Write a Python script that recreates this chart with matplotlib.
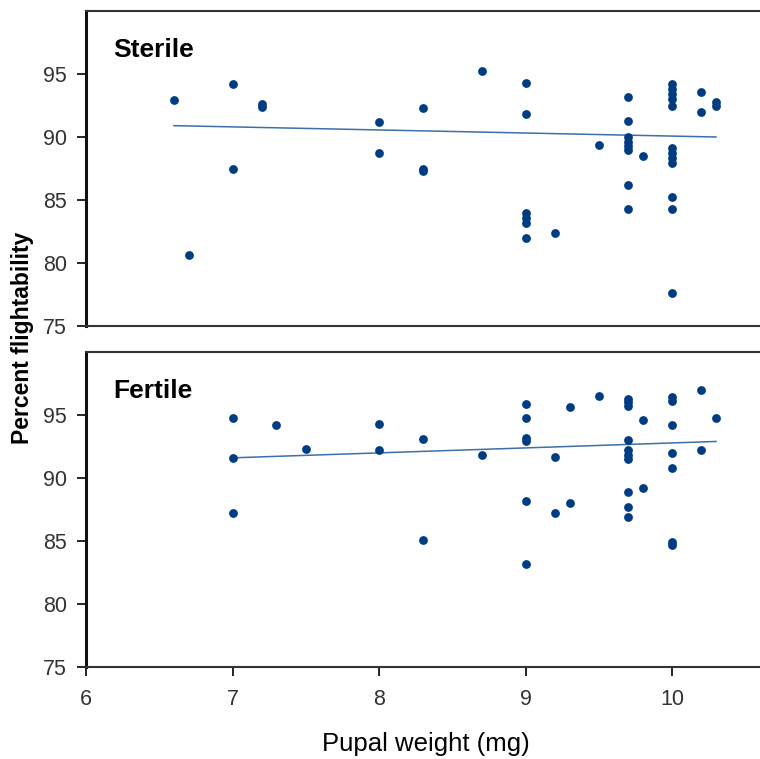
import numpy as np
import matplotlib
matplotlib.use("Agg")
import matplotlib.pyplot as plt

plt.rcParams['font.family'] = ['Liberation Sans', 'DejaVu Sans']

# Sterile data (pupal weight mg, percent flightability)
sterile_x = [6.6, 6.7, 7.0, 7.0, 7.2, 7.2, 8.0, 8.0, 8.3, 8.3, 8.3, 8.7,
             9.0, 9.0, 9.0, 9.0, 9.0, 9.0, 9.2, 9.5,
             9.7, 9.7, 9.7, 9.7, 9.7, 9.7, 9.7, 9.7, 9.8,
             10.0, 10.0, 10.0, 10.0, 10.0, 10.0, 10.0, 10.0, 10.0, 10.0, 10.0, 10.0,
             10.2, 10.2, 10.3, 10.3]
sterile_y = [92.9, 80.6, 94.2, 87.5, 92.6, 92.4, 91.2, 88.7, 92.3, 87.5, 87.3, 95.2,
             94.3, 91.8, 84.0, 83.6, 83.2, 82.0, 82.4, 89.4,
             93.2, 91.3, 90.0, 89.6, 89.3, 89.0, 86.2, 84.3, 88.5,
             94.2, 93.8, 93.4, 93.0, 92.5, 89.1, 88.7, 88.3, 87.9, 85.2, 84.3, 77.6,
             93.6, 92.0, 92.8, 92.5]

# Fertile data
fertile_x = [7.0, 7.0, 7.0, 7.3, 7.5, 8.0, 8.0, 8.3, 8.3, 8.7,
             9.0, 9.0, 9.0, 9.0, 9.0, 9.0, 9.2, 9.2, 9.3, 9.3, 9.5,
             9.7, 9.7, 9.7, 9.7, 9.7, 9.7, 9.7, 9.7, 9.7, 9.7, 9.8, 9.8,
             10.0, 10.0, 10.0, 10.0, 10.0, 10.0, 10.0, 10.2, 10.2, 10.3]
fertile_y = [94.8, 91.6, 87.2, 94.2, 92.3, 94.3, 92.2, 93.1, 85.1, 91.8,
             95.9, 94.8, 93.2, 92.9, 88.2, 83.2, 91.7, 87.2, 95.6, 88.0, 96.5,
             96.3, 96.0, 95.7, 93.0, 92.2, 91.8, 91.5, 88.9, 87.7, 86.9, 94.6, 89.2,
             96.4, 96.1, 94.2, 92.0, 90.8, 84.9, 84.7, 97.0, 92.2, 94.8]

# trend lines (x range, fitted y)
sterile_fit_x = [6.6, 10.3]
sterile_fit_y = [90.9, 90.0]
fertile_fit_x = [7.0, 10.3]
fertile_fit_y = [91.6, 92.9]

panels = [("Sterile", sterile_x, sterile_y, sterile_fit_x, sterile_fit_y),
          ("Fertile", fertile_x, fertile_y, fertile_fit_x, fertile_fit_y)]

fig = plt.figure(figsize=(7.6, 7.59), dpi=100)
left = 86 / 760
width = 1 - left
tops = [11, 352]
h = 315 / 759

dot_color = "#003c82"
line_color = "#3d6fa8"
tick_color = "#333333"

for i, (name, xs, ys, fx, fy) in enumerate(panels):
    bottom = 1 - (tops[i] + 315) / 759
    ax = fig.add_axes([left, bottom, width, h])
    ax.scatter(xs, ys, s=40, color=dot_color, zorder=3, linewidths=0)
    ax.plot(fx, fy, color=line_color, lw=1.1, zorder=2)
    ax.set_xlim(6, 10.6)
    ax.set_ylim(75, 100)
    ax.set_yticks([75, 80, 85, 90, 95])
    ax.set_xticks([6, 7, 8, 9, 10])
    ax.spines['right'].set_visible(False)
    ax.spines['left'].set_linewidth(2.2)
    ax.spines['left'].set_color("#111111")
    for s in ['top', 'bottom']:
        ax.spines[s].set_linewidth(1.5)
        ax.spines[s].set_color("#333333")
    ax.tick_params(axis='y', direction='out', length=6.5, width=1.2,
                   labelsize=15.5, labelcolor=tick_color, pad=7)
    if i == 0:
        ax.tick_params(axis='x', bottom=False, labelbottom=False)
    else:
        ax.tick_params(axis='x', direction='out', length=6.5, width=1.2,
                       labelsize=15.5, labelcolor=tick_color, pad=9)
    ax.text(0.04, 0.875, name, transform=ax.transAxes, fontsize=19,
            fontweight='bold', va='center', ha='left')

fig.text(0.03, 0.555, "Percent flightability", rotation=90, fontsize=16.5,
         fontweight='bold', va='center', ha='center')
fig.text(0.56, 0.02, "Pupal weight (mg)", fontsize=18.5, va='center', ha='center')

fig.savefig("out.png", dpi=100)
